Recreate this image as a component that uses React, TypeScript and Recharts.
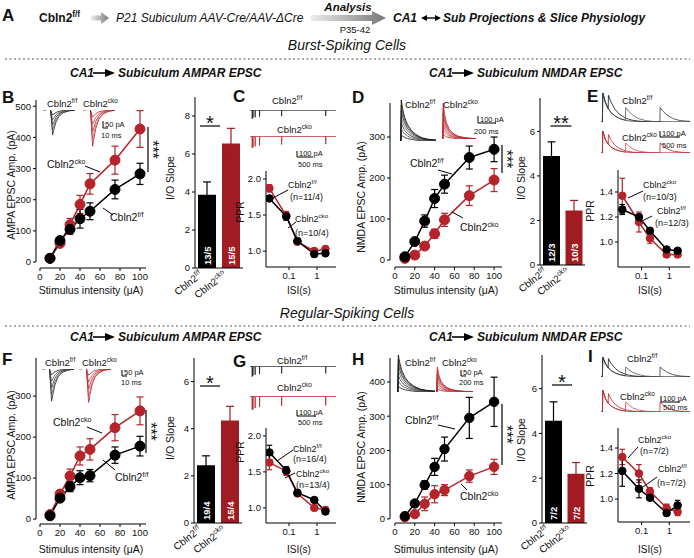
import React from "react";
import { LineChart, Line, XAxis, YAxis, ErrorBar, BarChart, Bar, Cell, LabelList, ReferenceLine } from "recharts";

const RED = "#b5232b";
const BAR_RED = "#a01c22";
const INK = "#111";
const FONT = "'Liberation Sans', Arial, Helvetica, sans-serif";

// ---- input/output curves: stimulus intensity (µA) vs EPSC amplitude (pA)
const stim = [10, 20, 30, 40, 50, 75, 100];

const burstAmpaFF = [12, 69, 105, 139, 163, 233, 283];
const burstAmpaFFErr = [5, 8, 15, 30, 27, 30, 34];
const burstAmpaCKO = [12, 60, 120, 185, 251, 327, 427];
const burstAmpaCKOErr = [4, 6, 20, 29, 33, 45, 59];

const burstNmdaFF = [8, 45, 95, 150, 185, 250, 270];
const burstNmdaFFErr = [3, 5, 15, 22, 22, 28, 30];
const burstNmdaCKO = [4, 12, 34, 64, 98, 157, 195];
const burstNmdaCKOErr = [2, 4, 6, 11, 16, 24, 28];

const regAmpaFF = [8, 51, 79, 101, 106, 156, 178];
const regAmpaFFErr = [4, 8, 12, 17, 15, 20, 24];
const regAmpaCKO = [11, 61, 105, 154, 170, 223, 264];
const regAmpaCKOErr = [5, 7, 17, 22, 26, 32, 34];

const regNmdaFF = [8, 45, 99, 152, 204, 295, 342];
const regNmdaFFErr = [3, 4, 12, 25, 35, 60, 72];
const regNmdaCKO = [5, 14, 44, 72, 84, 125, 152];
const regNmdaCKOErr = [3, 5, 20, 25, 16, 18, 22];

// ---- paired-pulse ratio vs inter-stimulus interval (s)
const isi = [0.02, 0.08, 0.2, 0.8, 2];

const burstAmpaPprFF = [1.73, 1.48, 1.14, 0.96, 0.97];
const burstAmpaPprFFErr = [0.03, 0.05, 0.03, 0.04, 0.03];
const burstAmpaPprCKO = [1.87, 1.49, 1.13, 1.0, 1.03];
const burstAmpaPprCKOErr = [0.05, 0.06, 0.03, 0.04, 0.03];

const burstNmdaPprFF = [1.26, 1.2, 1.09, 0.94, 0.93];
const burstNmdaPprFFErr = [0.04, 0.02, 0.02, 0.01, 0.01];
const burstNmdaPprCKO = [1.37, 1.16, 1.03, 0.9, 0.9];
const burstNmdaPprCKOErr = [0.14, 0.08, 0.04, 0.02, 0.02];

const regAmpaPprFF = [1.77, 1.52, 1.21, 1.11, 0.95];
const regAmpaPprFFErr = [0.1, 0.05, 0.03, 0.03, 0.04];
const regAmpaPprCKO = [1.63, 1.51, 1.2, 1.0, 0.97];
const regAmpaPprCKOErr = [0.1, 0.06, 0.03, 0.03, 0.04];

const regNmdaPprFF = [1.22, 1.08, 1.01, 0.89, 0.95];
const regNmdaPprFFErr = [0.12, 0.07, 0.02, 0.02, 0.04];
const regNmdaPprCKO = [1.33, 1.2, 1.06, 0.93, 0.9];
const regNmdaPprCKOErr = [0.06, 0.07, 0.03, 0.03, 0.03];

// ---- I/O slopes
const genotypes = ["ff", "cko"];
const burstAmpaSlope = [3.85, 6.55];
const burstAmpaSlopeErr = [0.68, 0.8];
const burstAmpaN = ["13/5", "15/5"];
const burstNmdaSlope = [4.9, 2.45];
const burstNmdaSlopeErr = [0.63, 0.45];
const burstNmdaN = ["12/3", "10/3"];
const regAmpaSlope = [2.45, 4.35];
const regAmpaSlopeErr = [0.4, 0.6];
const regAmpaN = ["19/4", "15/4"];
const regNmdaSlope = [4.56, 2.2];
const regNmdaSlopeErr = [0.85, 0.5];
const regNmdaN = ["7/2", "7/2"];

// ---- example traces
const ampaT = [-7, -4, -3.5, 0, 1, 2, 3, 5, 8, 12, 17, 23];
const burstAmpaTrFF = {
  a: [0, 0, null, 0, -20, -36, -30, -19, -9, -4, -1, 0],
  b: [null, null, null, 0, -35, -72, -60, -37, -18, -8, -3, 0],
  c: [null, null, null, 0, -50, -108, -90, -55, -27, -12, -4, 0],
  d: [null, null, null, 0, -64, -145, -120, -73, -36, -16, -6, -1],
  e: [null, null, null, 0, -78, -182, -150, -92, -45, -20, -7, -1],
};
const burstAmpaTrCKO = {
  a: [0, 0, null, 0, -28, -52, -44, -27, -13, -6, -2, 0],
  b: [null, null, null, 0, -55, -105, -88, -54, -26, -11, -4, 0],
  c: [null, null, null, 0, -82, -160, -133, -81, -40, -17, -6, 0],
  d: [null, null, null, 0, -105, -212, -176, -108, -53, -23, -8, -1],
  e: [null, null, null, 0, -128, -265, -220, -134, -66, -28, -10, -1],
};
const regAmpaTrFF = {
  a: [0, 0, null, 0, -25, -45, -38, -23, -11, -5, -2, 0],
  b: [null, null, null, 0, -50, -95, -80, -48, -24, -10, -4, 0],
  c: [null, null, null, 0, -76, -150, -125, -76, -37, -16, -6, 0],
  d: [null, null, null, 0, -100, -205, -170, -104, -51, -22, -8, -1],
  e: [null, null, null, 0, -122, -255, -212, -129, -63, -27, -10, -1],
};
const regAmpaTrCKO = {
  a: [0, 0, null, 0, -27, -50, -42, -25, -12, -5, -2, 0],
  b: [null, null, null, 0, -54, -105, -87, -53, -26, -11, -4, 0],
  c: [null, null, null, 0, -80, -160, -133, -81, -40, -17, -6, 0],
  d: [null, null, null, 0, -104, -215, -178, -109, -53, -23, -8, -1],
  e: [null, null, null, 0, -126, -265, -220, -134, -66, -28, -10, -1],
};

const nmdaT = [-10, 0, 5, 20, 45, 80, 125, 180, 250, 330, 420];
const nmdaTrFF = {
  a: [0, 0, 15, 12, 9, 6, 4, 2, 1, 1, 0],
  b: [0, 0, 30, 24, 17, 12, 8, 5, 2, 1, 1],
  c: [0, 0, 45, 36, 26, 18, 12, 7, 4, 2, 1],
  d: [0, 0, 60, 48, 35, 24, 16, 10, 5, 2, 1],
  e: [0, 0, 75, 60, 44, 30, 20, 12, 6, 3, 2],
  f: [0, 0, 88, 70, 51, 35, 23, 14, 7, 4, 2],
  g: [0, 0, 100, 80, 58, 40, 26, 16, 8, 4, 2],
};
const nmdaTrCKO = {
  a: [0, 0, 14, 10, 6, 4, 2, 1, 1, 0, 0],
  b: [0, 0, 28, 20, 13, 8, 5, 3, 1, 1, 0],
  c: [0, 0, 43, 31, 20, 12, 7, 4, 2, 1, 0],
  d: [0, 0, 57, 41, 26, 16, 10, 5, 3, 1, 1],
  e: [0, 0, 72, 52, 33, 20, 12, 7, 3, 2, 1],
  f: [0, 0, 86, 62, 40, 24, 14, 8, 4, 2, 1],
  g: [0, 0, 100, 72, 46, 28, 17, 9, 5, 2, 1],
};

const pprT = [-0.06, -0.001, 0, 0.004, 0.019, 0.02, 0.024, 0.079, 0.08, 0.084, 0.199, 0.2, 0.204, 0.799, 0.8, 0.804, 1.999, 2, 2.004, 2.28];
const pprTrFF = { a: [0, 0, -140, 0, 0, -125, 0, 0, -115, 0, 0, -105, 0, 0, -98, 0, 0, -95, 0, 0] };
const pprTrCKO = { a: [0, 0, -150, 0, 0, -140, 0, 0, -128, 0, 0, -118, 0, 0, -105, 0, 0, -100, 0, 0] };

const nmdaPprT = [-0.05, 0, 0.01, 0.1, 0.2, 0.21, 0.3, 0.45, 0.6, 0.8, 0.81, 0.9, 1.05, 1.25, 1.5, 1.75, 2.0, 2.01, 2.1, 2.25, 2.45, 2.7, 3.05];
const nmdaPprTrFF = {
  a: [0, 0, 100, 68, 46, 92, 68, 42, 26, 14, 14, 10, 6, 3, 1, 0, 0, 0, 0, 0, 0, 0, 0],
  b: [0, 0, 100, 68, 46, 46, 32, 20, 12, 6, 50, 38, 24, 12, 5, 2, 1, 1, 1, 0, 0, 0, 0],
  c: [0, 0, 100, 68, 46, 46, 32, 20, 12, 6, 6, 4, 3, 2, 1, 0, 0, 50, 38, 24, 12, 5, 2],
};
const nmdaPprTrCKO = {
  a: [0, 0, 100, 62, 40, 84, 58, 34, 20, 10, 10, 7, 4, 2, 1, 0, 0, 0, 0, 0, 0, 0, 0],
  b: [0, 0, 100, 62, 40, 40, 27, 16, 9, 4, 46, 33, 19, 9, 4, 1, 1, 0, 0, 0, 0, 0, 0],
  c: [0, 0, 100, 62, 40, 40, 27, 16, 9, 4, 4, 3, 2, 1, 0, 0, 0, 46, 33, 19, 9, 4, 1],
};

const GRAYS = ["#111", "#555", "#333", "#666", "#222", "#444", "#000"];
const REDS = [RED, "#cc4a50", "#b32a31", "#d5666b", "#a81e25", "#c53a40", "#b5232b"];

const tickStyle = { fontSize: 9.5, fill: INK, fontFamily: FONT };
const axisStroke = { stroke: "#000", strokeWidth: 1 };

function ioRows(xs: number[], ff: number[], ffErr: number[], cko: number[], ckoErr: number[]) {
  return xs.map((x, i) => ({ x, ff: ff[i], ffErr: ffErr[i], cko: cko[i], ckoErr: ckoErr[i] }));
}

function traceRows(t: number[], series: Record<string, (number | null)[]>) {
  return t.map((tt, i) => {
    const r: any = { t: tt };
    Object.keys(series).forEach((k) => (r[k] = series[k][i]));
    return r;
  });
}

// plot area (left, top, w, h) is given in page pixels.
// `split` draws the two axis lines detached at the corner (Igor style), starting at 0.
function XYPanel(p: any) {
  const yw = 30, xh = 20, mt = 8, mr = 10;
  const series = [
    { key: "cko", err: "ckoErr", color: RED },
    { key: "ff", err: "ffErr", color: "#000" },
  ];
  const [x0, x1] = p.xDomain;
  const [y0, y1] = p.yDomain;
  return (
    <div style={{ position: "absolute", left: p.left - yw, top: p.top - mt }}>
      <LineChart width={yw + p.w + mr} height={mt + p.h + xh} data={p.rows} margin={{ top: mt, right: mr, left: 0, bottom: 0 }}>
        <XAxis type="number" dataKey="x" scale={p.log ? "log" : "linear"} domain={p.xDomain} ticks={p.xTicks} interval={0}
          allowDataOverflow height={xh} tickSize={3} tick={tickStyle} axisLine={p.split ? false : axisStroke} tickLine={axisStroke} />
        <YAxis type="number" domain={p.yDomain} ticks={p.yTicks} interval={0} allowDataOverflow width={yw} tickSize={3}
          tick={tickStyle} axisLine={p.split ? false : axisStroke} tickLine={axisStroke} tickFormatter={p.yFmt} />
        {p.split && (
          <ReferenceLine segment={[{ x: x0, y: 0 }, { x: x0, y: y1 }]} stroke="#000" strokeWidth={1} ifOverflow="visible" />
        )}
        {p.split && (
          <ReferenceLine segment={[{ x: 0, y: y0 }, { x: x1, y: y0 }]} stroke="#000" strokeWidth={1} ifOverflow="visible" />
        )}
        {series.map((s) => (
          <Line key={s.key} type="linear" dataKey={s.key} stroke={s.color} strokeWidth={1.5}
            dot={{ r: p.r, fill: s.color, stroke: s.color, strokeWidth: 1 }} activeDot={false} isAnimationActive={false}>
            <ErrorBar dataKey={s.err} width={p.cap} stroke={s.color} strokeWidth={1.2} direction="y" />
          </Line>
        ))}
      </LineChart>
    </div>
  );
}

function GenoTick({ x, y, payload }: any) {
  const sup = payload.value === "ff" ? "f/f" : "cko";
  const ax = x - 4, ay = y + 8;
  return (
    <text x={ax} y={ay} transform={`rotate(-38 ${ax} ${ay})`} textAnchor="end" fontSize={10} fontFamily={FONT} fill={INK}>
      Cbln2<tspan dy={-4} fontSize={7}>{sup}</tspan>
    </text>
  );
}

function NLabel({ x, y, width, height, value }: any) {
  const cx = x + width / 2 + 3.5, by = y + height - 3;
  return (
    <text x={cx} y={by} transform={`rotate(-90 ${cx} ${by})`} fill="#fff" fontSize={9.5} fontWeight="bold" fontFamily={FONT}>
      {value}
    </text>
  );
}

function SlopeBars(p: any) {
  const yw = 28, xh = 2, mt = 6, mr = 4;
  const rows = genotypes.map((g, i) => ({
    g, v: p.vals[i], eK: i === 0 ? p.errs[0] : null, eR: i === 1 ? p.errs[1] : null, n: p.ns[i],
  }));
  return (
    <div style={{ position: "absolute", left: p.left - yw, top: p.top - mt }}>
      <BarChart width={yw + p.w + mr} height={mt + p.h + xh + 40} data={rows} margin={{ top: mt, right: mr, left: 0, bottom: 0 }}>
        <XAxis dataKey="g" type="category" height={xh + 40} tickSize={0} tickMargin={0} axisLine={axisStroke} tickLine={false} tick={<GenoTick />} interval={0} />
        <YAxis type="number" domain={[0, p.yMax]} ticks={p.yTicks} interval={0} allowDataOverflow width={yw} tickSize={3}
          tick={tickStyle} axisLine={axisStroke} tickLine={axisStroke} />
        <Bar dataKey="v" barSize={p.barSize} isAnimationActive={false}>
          {rows.map((r, i) => (
            <Cell key={r.g} fill={i === 0 ? "#000" : BAR_RED} />
          ))}
          <ErrorBar dataKey="eK" width={4} stroke="#000" strokeWidth={1.2} direction="y" />
          <ErrorBar dataKey="eR" width={4} stroke={BAR_RED} strokeWidth={1.2} direction="y" />
          <LabelList dataKey="n" content={NLabel} />
        </Bar>
      </BarChart>
    </div>
  );
}

function Trace(p: any) {
  const m = 2;
  const keys = Object.keys(p.series);
  const rows = traceRows(p.t, p.series);
  return (
    <div style={{ position: "absolute", left: p.left - m, top: p.top - m }}>
      <LineChart width={p.w + 2 * m} height={p.h + 2 * m} data={rows} margin={{ top: m, right: m, bottom: m, left: m }}>
        <XAxis type="number" dataKey="t" domain={[p.t[0], p.t[p.t.length - 1]]} hide allowDataOverflow />
        <YAxis type="number" domain={p.yDomain} hide allowDataOverflow />
        {keys.map((k, i) => (
          <Line key={k} type="linear" dataKey={k} stroke={p.colors[i % p.colors.length]} strokeWidth={0.8}
            dot={false} activeDot={false} isAnimationActive={false} />
        ))}
      </LineChart>
    </div>
  );
}

function Txt({ x, y, size = 10, bold, italic, anchor = "start", rotate, central, children }: any) {
  return (
    <text x={x} y={y} fontSize={size} fontWeight={bold ? "bold" : "normal"} fontStyle={italic ? "italic" : "normal"}
      textAnchor={anchor} dominantBaseline={central ? "central" : undefined} fontFamily={FONT} fill={INK}
      transform={rotate ? `rotate(${rotate} ${x} ${y})` : undefined}>
      {children}
    </text>
  );
}

function Gene({ x, y, sup, size = 10, bold }: any) {
  return (
    <text x={x} y={y} fontSize={size} fontWeight={bold ? "bold" : "normal"} fontFamily={FONT} fill={INK}>
      Cbln2<tspan dy={-size * 0.42} fontSize={size * 0.68}>{sup}</tspan>
    </text>
  );
}

const Ln = ({ x1, y1, x2, y2, w = 1 }: any) => <line x1={x1} y1={y1} x2={x2} y2={y2} stroke="#000" strokeWidth={w} />;

function ScaleBar({ x, y, v, hLen, top, bottom, size = 7.5, bx = 2, by = 11 }: any) {
  return (
    <g>
      <polyline points={`${x},${y - v} ${x},${y} ${x + hLen},${y}`} fill="none" stroke="#000" strokeWidth={1} />
      <Txt x={x + 2} y={y - 1} size={size}>{top}</Txt>
      <Txt x={x - bx} y={y + by} size={size}>{bottom}</Txt>
    </g>
  );
}

function Stars({ x, y1, y2 }: any) {
  const cy = (y1 + y2) / 2;
  return (
    <g>
      <Ln x1={x} y1={y1} x2={x} y2={y2} w={1.2} />
      <Txt x={x - 1} y={cy} size={16} anchor="middle" rotate={90}>***</Txt>
    </g>
  );
}

function Sig({ cx, y, w, label }: any) {
  return (
    <g>
      <Ln x1={cx - w / 2} y1={y} x2={cx + w / 2} y2={y} w={1.2} />
      <Txt x={cx} y={y + 4} size={20} anchor="middle">{label}</Txt>
    </g>
  );
}

function Title({ x, y, rest }: any) {
  return (
    <g>
      <Txt x={x} y={y} size={12} bold italic>CA1</Txt>
      <Ln x1={x + 23} y1={y - 4} x2={x + 37} y2={y - 4} w={1.6} />
      <polygon points={`${x + 35},${y - 8} ${x + 45},${y - 4} ${x + 35},${y}`} fill="#000" />
      <Txt x={x + 48} y={y} size={12} bold italic>{rest}</Txt>
    </g>
  );
}

export default function App() {
  return (
    <div style={{ position: "relative", width: 694, height: 558, background: "#fff", overflow: "hidden", fontFamily: FONT }}>
      <style>{"body{margin:0}"}</style>

      {/* burst-spiking: AMPAR */}
      <XYPanel left={36} top={100} w={110} h={168} xDomain={[-4, 106]} yDomain={[-19, 520]} split
        xTicks={[0, 20, 40, 60, 80, 100]} yTicks={[0, 100, 200, 300, 400, 500]} r={5} cap={3.5}
        rows={ioRows(stim, burstAmpaFF, burstAmpaFFErr, burstAmpaCKO, burstAmpaCKOErr)} />
      <SlopeBars left={195} top={97} w={48} h={171} yMax={9} yTicks={[0, 2, 4, 6, 8]} barSize={18}
        vals={burstAmpaSlope} errs={burstAmpaSlopeErr} ns={burstAmpaN} />
      <XYPanel left={266} top={171} w={70} h={96} log xDomain={[0.0151, 4.77]} yDomain={[0.78, 2.11]}
        xTicks={[0.1, 1]} yTicks={[1, 1.5, 2]} r={3.8} cap={2.8} yFmt={(v: number) => v.toFixed(1)}
        rows={ioRows(isi, burstAmpaPprFF, burstAmpaPprFFErr, burstAmpaPprCKO, burstAmpaPprCKOErr)} />

      {/* burst-spiking: NMDAR */}
      <XYPanel left={390} top={103} w={112} h={164} xDomain={[-5, 108]} yDomain={[-17, 383]} split
        xTicks={[0, 20, 40, 60, 80, 100]} yTicks={[0, 100, 200, 300]} r={5} cap={3.5}
        rows={ioRows(stim, burstNmdaFF, burstNmdaFFErr, burstNmdaCKO, burstNmdaCKOErr)} />
      <SlopeBars left={540} top={98} w={45} h={167} yMax={7.5} yTicks={[0, 2, 4, 6]} barSize={17}
        vals={burstNmdaSlope} errs={burstNmdaSlopeErr} ns={burstNmdaN} />
      <XYPanel left={618} top={170} w={72} h={97} log xDomain={[0.014, 5.6]} yDomain={[0.8, 1.576]}
        xTicks={[0.1, 1]} yTicks={[1, 1.2, 1.4]} r={3.8} cap={2.8} yFmt={(v: number) => v.toFixed(1)}
        rows={ioRows(isi, burstNmdaPprFF, burstNmdaPprFFErr, burstNmdaPprCKO, burstNmdaPprCKOErr)} />

      {/* regular-spiking: AMPAR */}
      <XYPanel left={36} top={358} w={110} h={166} xDomain={[-4, 106]} yDomain={[-12, 393]} split
        xTicks={[0, 20, 40, 60, 80, 100]} yTicks={[0, 100, 200, 300]} r={5} cap={3.5}
        rows={ioRows(stim, regAmpaFF, regAmpaFFErr, regAmpaCKO, regAmpaCKOErr)} />
      <SlopeBars left={194} top={358} w={48} h={165} yMax={7} yTicks={[0, 2, 4, 6]} barSize={18}
        vals={regAmpaSlope} errs={regAmpaSlopeErr} ns={regAmpaN} />
      <XYPanel left={266} top={428} w={70} h={95} log xDomain={[0.0151, 4.77]} yDomain={[0.79, 2.11]}
        xTicks={[0.1, 1]} yTicks={[1, 1.5, 2]} r={3.8} cap={2.8} yFmt={(v: number) => v.toFixed(1)}
        rows={ioRows(isi, regAmpaPprFF, regAmpaPprFFErr, regAmpaPprCKO, regAmpaPprCKOErr)} />

      {/* regular-spiking: NMDAR */}
      <XYPanel left={390} top={358} w={112} h={165} xDomain={[-5, 108]} yDomain={[-12, 470]} split
        xTicks={[0, 20, 40, 60, 80, 100]} yTicks={[0, 100, 200, 300, 400]} r={4.7} cap={3.5}
        rows={ioRows(stim, regNmdaFF, regNmdaFFErr, regNmdaCKO, regNmdaCKOErr)} />
      <SlopeBars left={542} top={355} w={45} h={168} yMax={7.5} yTicks={[0, 2, 4, 6]} barSize={17}
        vals={regNmdaSlope} errs={regNmdaSlopeErr} ns={regNmdaN} />
      <XYPanel left={618} top={428} w={72} h={94} log xDomain={[0.014, 5.6]} yDomain={[0.82, 1.557]}
        xTicks={[0.1, 1]} yTicks={[1, 1.2, 1.4]} r={3.8} cap={2.8} yFmt={(v: number) => v.toFixed(1)}
        rows={ioRows(isi, regNmdaPprFF, regNmdaPprFFErr, regNmdaPprCKO, regNmdaPprCKOErr)} />

      {/* example traces */}
      <Trace left={43} top={110} w={32} h={37} t={ampaT} yDomain={[-270, 0]} series={burstAmpaTrFF} colors={GRAYS} />
      <Trace left={83} top={110} w={32} h={37} t={ampaT} yDomain={[-270, 0]} series={burstAmpaTrCKO} colors={REDS} />
      <Trace left={42} top={369} w={32} h={34} t={ampaT} yDomain={[-270, 0]} series={regAmpaTrFF} colors={GRAYS} />
      <Trace left={79} top={369} w={32} h={34} t={ampaT} yDomain={[-270, 0]} series={regAmpaTrCKO} colors={REDS} />

      <Trace left={400} top={100} w={36} h={41} t={nmdaT} yDomain={[0, 100]} series={nmdaTrFF} colors={GRAYS} />
      <Trace left={442} top={103} w={34} h={36} t={nmdaT} yDomain={[0, 100]} series={nmdaTrCKO} colors={REDS} />
      <Trace left={397} top={355} w={38} h={37} t={nmdaT} yDomain={[0, 100]} series={nmdaTrFF} colors={GRAYS} />
      <Trace left={436} top={367} w={37} h={25} t={nmdaT} yDomain={[0, 100]} series={nmdaTrCKO} colors={REDS} />

      <Trace left={250} top={110} w={86} h={9} t={pprT} yDomain={[-145, 5]} series={pprTrFF} colors={["#222"]} />
      <Trace left={250} top={136} w={86} h={12} t={pprT} yDomain={[-150, 5]} series={pprTrCKO} colors={[RED]} />
      <Trace left={250} top={366} w={86} h={11} t={pprT} yDomain={[-145, 5]} series={pprTrFF} colors={["#222"]} />
      <Trace left={250} top={396} w={86} h={14} t={pprT} yDomain={[-150, 5]} series={pprTrCKO} colors={[RED]} />

      <Trace left={601} top={93} w={89} h={29} t={nmdaPprT} yDomain={[0, 100]} series={nmdaPprTrFF} colors={GRAYS} />
      <Trace left={601} top={131} w={89} h={22} t={nmdaPprT} yDomain={[0, 100]} series={nmdaPprTrCKO} colors={REDS} />
      <Trace left={601} top={357} w={89} h={20} t={nmdaPprT} yDomain={[0, 100]} series={nmdaPprTrFF} colors={GRAYS} />
      <Trace left={601} top={390} w={89} h={22} t={nmdaPprT} yDomain={[0, 100]} series={nmdaPprTrCKO} colors={REDS} />

      <svg width={694} height={558} style={{ position: "absolute", left: 0, top: 0, pointerEvents: "none" }}>
        <defs>
          <linearGradient id="grayArrow" x1="0" x2="1" y1="0" y2="0">
            <stop offset="0" stopColor="#ededed" />
            <stop offset="1" stopColor="#777" />
          </linearGradient>
        </defs>

        {/* header */}
        <Txt x={2} y={21} size={17} bold>A</Txt>
        <Gene x={39} y={22} sup="f/f" size={12} bold />
        <polygon points="91,15.5 101,15.5 101,12 109,18 101,24 101,20.5 91,20.5" fill="url(#grayArrow)" />
        <Txt x={116} y={22} size={12} italic>P21 Subiculum AAV-Cre/AAV-ΔCre</Txt>
        <polygon points="311,15 372,15 372,11 386,18 372,25 372,21 311,21" fill="url(#grayArrow)" />
        <Txt x={348} y={11} size={11.5} bold italic anchor="middle">Analysis</Txt>
        <Txt x={355} y={33} size={9.5} anchor="middle">P35-42</Txt>
        <Txt x={393} y={22} size={12} bold italic>CA1</Txt>
        <Ln x1={425} y1={18} x2={437} y2={18} w={1.4} />
        <polygon points="421,18 427,15 427,21" fill="#000" />
        <polygon points="441,18 435,15 435,21" fill="#000" />
        <Txt x={443} y={22} size={12} bold italic>Sub Projections &amp; Slice Physiology</Txt>

        <Txt x={347} y={50} size={14} italic anchor="middle">Burst-Spiking Cells</Txt>
        <line x1={5} y1={59} x2={690} y2={59} stroke="#555" strokeWidth={1} strokeDasharray="2 2.5" />
        <Title x={70} y={77} rest="Subiculum AMPAR EPSC" />
        <Title x={429} y={77} rest="Subiculum NMDAR EPSC" />

        <Txt x={347} y={318} size={14} italic anchor="middle">Regular-Spiking Cells</Txt>
        <line x1={5} y1={326} x2={690} y2={326} stroke="#555" strokeWidth={1} strokeDasharray="2 2.5" />
        <Title x={70} y={341} rest="Subiculum AMPAR EPSC" />
        <Title x={429} y={341} rest="Subiculum NMDAR EPSC" />

        {/* panel letters */}
        <Txt x={2} y={103} size={17} bold>B</Txt>
        <Txt x={233} y={102} size={17} bold>C</Txt>
        <Txt x={352} y={103} size={17} bold>D</Txt>
        <Txt x={587} y={102} size={17} bold>E</Txt>
        <Txt x={2} y={365} size={17} bold>F</Txt>
        <Txt x={233} y={367} size={17} bold>G</Txt>
        <Txt x={352} y={365} size={17} bold>H</Txt>
        <Txt x={588} y={362} size={17} bold>I</Txt>

        {/* axis titles */}
        <Txt x={11} y={185} size={10.5} anchor="middle" central rotate={-90}>AMPA EPSC Amp. (pA)</Txt>
        <Txt x={11} y={445} size={10.5} anchor="middle" central rotate={-90}>AMPA EPSC Amp. (pA)</Txt>
        <Txt x={361} y={197} size={10.5} anchor="middle" central rotate={-90}>NMDA EPSC Amp. (pA)</Txt>
        <Txt x={361} y={447} size={10.5} anchor="middle" central rotate={-90}>NMDA EPSC Amp. (pA)</Txt>
        <Txt x={91} y={294} size={10.5} anchor="middle">Stimulus intensity (μA)</Txt>
        <Txt x={446} y={294} size={10.5} anchor="middle">Stimulus intensity (μA)</Txt>
        <Txt x={91} y={553} size={10.5} anchor="middle">Stimulus intensity (μA)</Txt>
        <Txt x={446} y={553} size={10.5} anchor="middle">Stimulus intensity (μA)</Txt>
        <Txt x={170} y={178} size={10.5} anchor="middle" central rotate={-90}>I/O Slope</Txt>
        <Txt x={521} y={178} size={10.5} anchor="middle" central rotate={-90}>I/O Slope</Txt>
        <Txt x={170} y={438} size={10.5} anchor="middle" central rotate={-90}>I/O Slope</Txt>
        <Txt x={521} y={440} size={10.5} anchor="middle" central rotate={-90}>I/O Slope</Txt>
        <Txt x={240} y={212} size={10.5} anchor="middle" central rotate={-90}>PPR</Txt>
        <Txt x={240} y={452} size={10.5} anchor="middle" central rotate={-90}>PPR</Txt>
        <Txt x={590} y={211} size={10.5} anchor="middle" central rotate={-90}>PPR</Txt>
        <Txt x={590} y={476} size={10.5} anchor="middle" central rotate={-90}>PPR</Txt>
        <Txt x={299} y={294} size={10} anchor="middle">ISI(s)</Txt>
        <Txt x={650} y={294} size={10} anchor="middle">ISI(s)</Txt>
        <Txt x={299} y={553} size={10} anchor="middle">ISI(s)</Txt>
        <Txt x={650} y={553} size={10} anchor="middle">ISI(s)</Txt>

        {/* trace labels and scale bars */}
        <Gene x={47} y={107} sup="f/f" size={9.5} />
        <Gene x={83} y={107} sup="cko" size={9.5} />
        <ScaleBar x={103} y={128} v={7} hLen={5} top="50 pA" bottom="10 ms" bx={2} by={10} />
        <Gene x={272} y={104} sup="f/f" size={9.5} />
        <Gene x={277} y={133} sup="cko" size={9.5} />
        <ScaleBar x={297} y={157} v={6} hLen={16} top="100 pA" bottom="500 ms" bx={-1} by={10} />
        <Gene x={405} y={108} sup="f/f" size={9.5} />
        <Gene x={443} y={108} sup="cko" size={9.5} />
        <ScaleBar x={478} y={123} v={7} hLen={18} top="100 pA" bottom="200 ms" bx={4} by={11} />
        <Gene x={622} y={104} sup="f/f" size={9.5} />
        <Gene x={622} y={141} sup="cko" size={9.5} />
        <ScaleBar x={660} y={137} v={6} hLen={20} top="100 pA" bottom="500 ms" bx={-2} by={11} />

        <Gene x={45} y={366} sup="f/f" size={9.5} />
        <Gene x={82} y={366} sup="cko" size={9.5} />
        <ScaleBar x={122} y={376} v={6} hLen={5} top="50 pA" bottom="10 ms" bx={1} by={9} />
        <Gene x={277} y={364} sup="f/f" size={9.5} />
        <Gene x={277} y={391} sup="cko" size={9.5} />
        <ScaleBar x={297} y={416} v={6} hLen={19} top="100 pA" bottom="500 ms" bx={-1} by={9} />
        <Gene x={405} y={366} sup="f/f" size={9.5} />
        <Gene x={442} y={366} sup="cko" size={9.5} />
        <ScaleBar x={461} y={376} v={6} hLen={5} top="50 pA" bottom="200 ms" bx={2} by={9} />
        <Gene x={627} y={362} sup="f/f" size={9.5} />
        <Gene x={620} y={400} sup="cko" size={9.5} />
        <ScaleBar x={661} y={402} v={6} hLen={19} top="100 pA" bottom="500 ms" bx={-2} by={8} />

        {/* curve annotations */}
        <Gene x={47} y={168} sup="cko" size={10.5} />
        <Ln x1={85} y1={166} x2={100} y2={172} />
        <Gene x={110} y={221} sup="f/f" size={10.5} />
        <Ln x1={103} y1={208} x2={113} y2={215} />
        <Stars x={148} y1={127} y2={172} />

        <Gene x={410} y={167} sup="f/f" size={10.5} />
        <Ln x1={438} y1={170} x2={452} y2={174} />
        <Gene x={460} y={231} sup="cko" size={10.5} />
        <Ln x1={452} y1={212} x2={463} y2={218} />
        <Stars x={502} y1={145} y2={173} />

        <Gene x={53} y={426} sup="cko" size={10.5} />
        <Ln x1={87} y1={427} x2={102} y2={433} />
        <Gene x={115} y={481} sup="f/f" size={10.5} />
        <Ln x1={103} y1={460} x2={115} y2={470} />
        <Stars x={146} y1={410} y2={453} />

        <Gene x={405} y={424} sup="f/f" size={10.5} />
        <Ln x1={438} y1={425} x2={455} y2={429} />
        <Gene x={460} y={500} sup="cko" size={10.5} />
        <Ln x1={461} y1={484} x2={467} y2={490} />
        <Stars x={502} y1={404} y2={465} />

        <Gene x={288} y={188} sup="f/f" size={9} />
        <Txt x={290} y={200} size={9}>(n=11/4)</Txt>
        <Ln x1={273} y1={198} x2={288} y2={190} />
        <Gene x={295} y={222} sup="cko" size={9} />
        <Txt x={295} y={236} size={9}>(n=10/4)</Txt>
        <Ln x1={288} y1={228} x2={296} y2={222} />

        <Gene x={643} y={188} sup="cko" size={9} />
        <Txt x={643} y={200} size={9}>(n=10/3)</Txt>
        <Ln x1={628} y1={198} x2={643} y2={191} />
        <Gene x={657} y={214} sup="f/f" size={9} />
        <Txt x={655} y={226} size={9}>(n=12/3)</Txt>
        <Ln x1={640} y1={222} x2={652} y2={216} />

        <Gene x={293} y={452} sup="f/f" size={9} />
        <Txt x={293} y={462} size={9}>(n=16/4)</Txt>
        <Ln x1={277} y1={461} x2={293} y2={450} />
        <Gene x={296} y={477} sup="cko" size={9} />
        <Txt x={296} y={488} size={9}>(n=13/4)</Txt>
        <Ln x1={285} y1={478} x2={295} y2={473} />

        <Gene x={638} y={443} sup="cko" size={9} />
        <Txt x={640} y={454} size={9}>(n=7/2)</Txt>
        <Ln x1={628} y1={458} x2={638} y2={447} />
        <Gene x={658} y={472} sup="f/f" size={9} />
        <Txt x={657} y={486} size={9}>(n=7/2)</Txt>
        <Ln x1={643} y1={487} x2={657} y2={477} />

        {/* significance over slope bars */}
        <Sig cx={210} y={126} w={20} label="*" />
        <Sig cx={561} y={126} w={21} label="**" />
        <Sig cx={210} y={386} w={20} label="*" />
        <Sig cx={562} y={385} w={20} label="*" />
      </svg>
    </div>
  );
}
